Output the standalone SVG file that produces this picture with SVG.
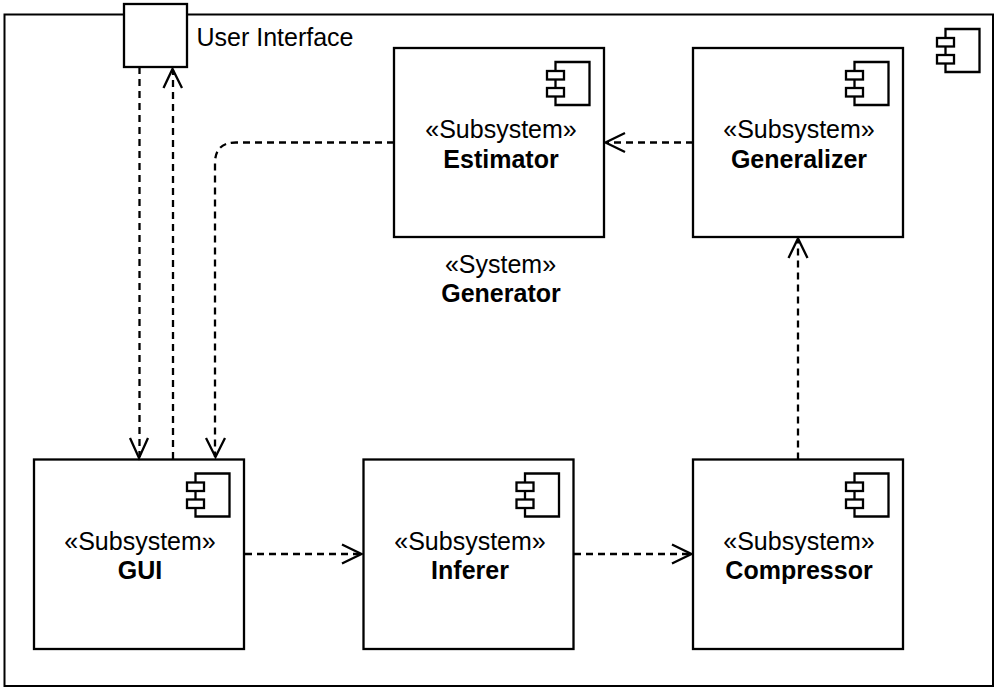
<svg xmlns="http://www.w3.org/2000/svg" width="998" height="691" viewBox="0 0 998 691">
<style>
.box{fill:#fff;stroke:#000;stroke-width:2.300}
.frame{fill:#fff;stroke:#000;stroke-width:2}
.ln{fill:none;stroke:#000;stroke-width:2.300}
.dash{fill:none;stroke:#000;stroke-width:2.300;stroke-dasharray:7 5}
.t{font-family:"Liberation Sans",Arial,sans-serif;font-size:25px;fill:#000;text-anchor:middle}
.b{font-weight:bold}
</style>
<defs>
<g id="icon">
<path class="box" d="M8.500 0H42.500V43H8.500Z"/>
<rect class="box" x="0" y="9" width="17" height="8.500"/>
<rect class="box" x="0" y="26" width="17" height="8.500"/>
</g>
</defs>
<rect width="998" height="691" fill="#fff"/>
<g id="generator">
<rect class="frame" x="4.500" y="14.500" width="988.500" height="671.500"/>
<use href="#icon" x="937" y="29"/>
<text class="t" x="500.500" y="273">«System»</text>
<text class="t b" x="501" y="302">Generator</text>
</g>
<g id="user-interface">
<rect class="box" x="124" y="4" width="63" height="63"/>
<text class="t" x="275" y="46">User Interface</text>
</g>
<g id="estimator">
<rect class="box" x="394" y="48" width="210" height="189"/>
<use href="#icon" x="547" y="62"/>
<text class="t" x="501" y="138">«Subsystem»</text>
<text class="t b" x="501" y="168">Estimator</text>
</g>
<g id="generalizer">
<rect class="box" x="693" y="48" width="210" height="189"/>
<use href="#icon" x="846" y="62"/>
<text class="t" x="799" y="138">«Subsystem»</text>
<text class="t b" x="799" y="168">Generalizer</text>
</g>
<g id="gui">
<rect class="box" x="34" y="459.500" width="210" height="189.500"/>
<use href="#icon" x="187" y="473.500"/>
<text class="t" x="140" y="550">«Subsystem»</text>
<text class="t b" x="140" y="579">GUI</text>
</g>
<g id="inferer">
<rect class="box" x="363.500" y="459.500" width="210" height="189.500"/>
<use href="#icon" x="516.500" y="473.500"/>
<text class="t" x="470" y="550">«Subsystem»</text>
<text class="t b" x="470" y="579">Inferer</text>
</g>
<g id="compressor">
<rect class="box" x="693" y="459.500" width="210" height="189.500"/>
<use href="#icon" x="846" y="473.500"/>
<text class="t" x="799" y="550">«Subsystem»</text>
<text class="t b" x="799" y="579">Compressor</text>
</g>
<g id="connectors">
<path class="dash" d="M139.500 67V457"/>
<path class="ln" d="M130 438L139 458L148 438"/>
<path class="dash" d="M173 459V70"/>
<path class="ln" d="M163.500 88L172.500 69L182 88"/>
<path class="dash" d="M394 142.500H236Q215 142.500 215 163V457"/>
<path class="ln" d="M206 438L215.500 457L225 438"/>
<path class="dash" d="M693 142.500H607"/>
<path class="ln" d="M625 133L605.500 142.500L625 152"/>
<path class="dash" d="M798 459.500V240"/>
<path class="ln" d="M788.500 258L798 238.500L807.500 258"/>
<path class="dash" d="M245 554H360"/>
<path class="ln" d="M342 544.500L361.500 554L342 563.500"/>
<path class="dash" d="M574 554H691"/>
<path class="ln" d="M672 544.500L691.500 554L672 563.500"/>
</g>
</svg>
